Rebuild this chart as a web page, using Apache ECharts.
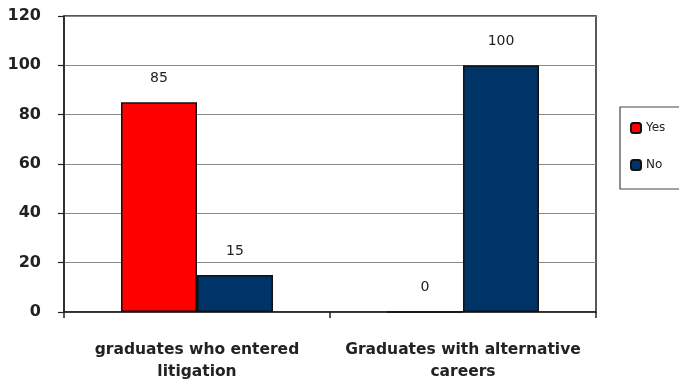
<!DOCTYPE html>
<html>
<head>
<meta charset="utf-8">
<script src="https://cdn.jsdelivr.net/npm/echarts@6/dist/echarts.min.js"></script>
<style>
  html, body { margin: 0; padding: 0; background: #ffffff; }
  #chart { width: 679px; height: 389px; }
</style>
</head>
<body>
<div id="chart"></div>
<script>
// Survey results per graduate group
const categories = ['graduates who entered\nlitigation', 'Graduates with alternative\ncareers'];
const yesValues = [85, 0];
const noValues = [15, 100];
const yTicks = { min: 0, max: 120, interval: 20 };

const chart = echarts.init(document.getElementById('chart'), null, { renderer: 'canvas' });

const labelStyle = {
  show: true,
  position: 'top',
  distance: 17,
  fontFamily: 'DejaVu Sans',
  fontSize: 14,
  color: '#222'
};

chart.setOption({
  animation: false,
  backgroundColor: '#ffffff',
  grid: {
    left: 64, top: 16, width: 532, height: 296,
    show: true, borderColor: '#222', borderWidth: 1.5, backgroundColor: 'transparent'
  },
  legend: {
    orient: 'vertical',
    left: 620, top: 107,
    padding: [15, 40, 18, 10],
    itemGap: 25,
    itemWidth: 10, itemHeight: 10,
    borderColor: '#444', borderWidth: 1.2,
    textStyle: { fontFamily: 'DejaVu Sans', fontSize: 12, color: '#222' },
    data: ['Yes', 'No']
  },
  xAxis: {
    type: 'category',
    data: categories,
    axisLine: { lineStyle: { color: '#222', width: 1.5 } },
    axisTick: { show: true, length: 6, lineStyle: { color: '#222', width: 1.5 } },
    axisLabel: {
      interval: 0,
      hideOverlap: false,
      margin: 27,
      fontFamily: 'DejaVu Sans', fontWeight: 'bold', fontSize: 15.5, color: '#222',
      lineHeight: 22
    }
  },
  yAxis: {
    type: 'value',
    min: yTicks.min, max: yTicks.max, interval: yTicks.interval,
    axisLine: { show: true, lineStyle: { color: '#222', width: 1.5 } },
    axisTick: { show: true, length: 6, lineStyle: { color: '#222', width: 1.2 } },
    splitLine: { lineStyle: { color: '#888', width: 1.2 } },
    axisLabel: {
      margin: 23,
      fontFamily: 'DejaVu Sans', fontWeight: 'bold', fontSize: 16, color: '#222'
    }
  },
  series: [
    {
      name: 'Yes', type: 'bar', data: yesValues,
      barWidth: 76, barGap: '0%',
      itemStyle: { color: '#ff0000', borderColor: '#111', borderWidth: 1.5 },
      label: labelStyle
    },
    {
      name: 'No', type: 'bar', data: noValues,
      barWidth: 76, barGap: '0%',
      itemStyle: { color: '#003366', borderColor: '#111', borderWidth: 1.5 },
      label: labelStyle
    }
  ]
});
</script>
</body>
</html>
